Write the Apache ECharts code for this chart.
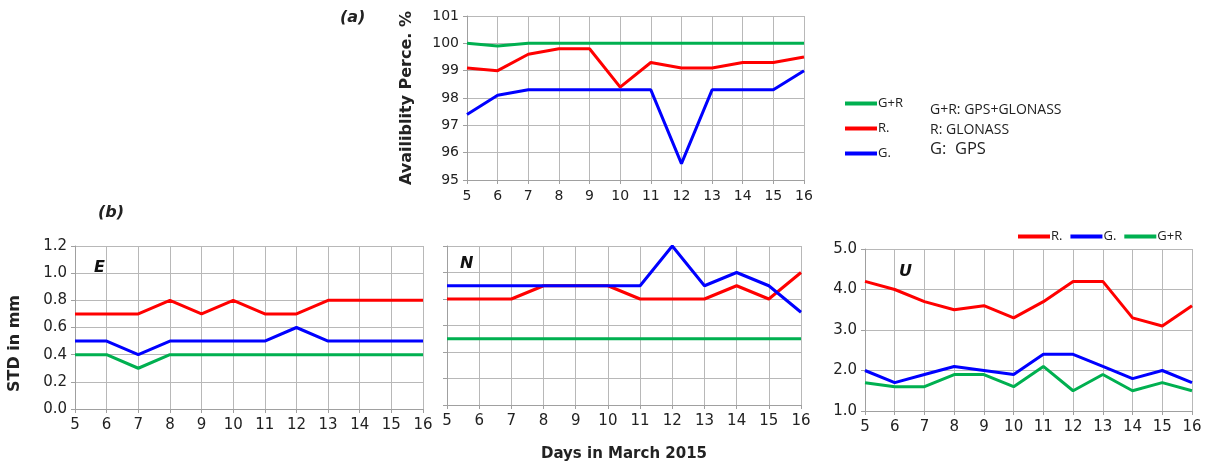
<!DOCTYPE html>
<html>
<head>
<meta charset="utf-8">
<script src="https://cdn.jsdelivr.net/npm/echarts@6/dist/echarts.min.js"></script>
<style>
  html, body { margin: 0; padding: 0; background: #fff; }
  #chart { width: 1206px; height: 463px; }
</style>
</head>
<body>
<div id="chart"></div>
<script>
const days = [5, 6, 7, 8, 9, 10, 11, 12, 13, 14, 15, 16];

// (a) availability %
const availGR = [100, 99.9, 100, 100, 100, 100, 100, 100, 100, 100, 100, 100];
const availR = [99.1, 99.0, 99.6, 99.8, 99.8, 98.4, 99.3, 99.1, 99.1, 99.3, 99.3, 99.5];
const availG = [97.4, 98.1, 98.3, 98.3, 98.3, 98.3, 98.3, 95.6, 98.3, 98.3, 98.3, 99.0];

// (b) STD in mm
const eastR = [0.7, 0.7, 0.7, 0.8, 0.7, 0.8, 0.7, 0.7, 0.8, 0.8, 0.8, 0.8];
const eastG = [0.5, 0.5, 0.4, 0.5, 0.5, 0.5, 0.5, 0.6, 0.5, 0.5, 0.5, 0.5];
const eastGR = [0.4, 0.4, 0.3, 0.4, 0.4, 0.4, 0.4, 0.4, 0.4, 0.4, 0.4, 0.4];

const northR = [0.8, 0.8, 0.8, 0.9, 0.9, 0.9, 0.8, 0.8, 0.8, 0.9, 0.8, 1.0];
const northG = [0.9, 0.9, 0.9, 0.9, 0.9, 0.9, 0.9, 1.2, 0.9, 1.0, 0.9, 0.7];
const northGR = [0.5, 0.5, 0.5, 0.5, 0.5, 0.5, 0.5, 0.5, 0.5, 0.5, 0.5, 0.5];

const upR = [4.2, 4.0, 3.7, 3.5, 3.6, 3.3, 3.7, 4.2, 4.2, 3.3, 3.1, 3.6];
const upG = [2.0, 1.7, 1.9, 2.1, 2.0, 1.9, 2.4, 2.4, 2.1, 1.8, 2.0, 1.7];
const upGR = [1.7, 1.6, 1.6, 1.9, 1.9, 1.6, 2.1, 1.5, 1.9, 1.5, 1.7, 1.5];

const colors = { "G+R": "#00b050", "R.": "#ff0000", "G.": "#0000ff" };
const font = "DejaVu Sans, Verdana, sans-serif";
const gridColor = "#b8b8b8";

function pairs(values) {
  return days.map((d, i) => [d, values[i]]);
}

function line(name, values, idx) {
  return {
    name: name,
    type: "line",
    xAxisIndex: idx,
    yAxisIndex: idx,
    data: pairs(values),
    symbol: "none",
    lineStyle: { width: 3, color: colors[name] },
    itemStyle: { color: colors[name] },
    z: name === "G." ? 3 : 2,
  };
}

function xAxis(idx, size, extra) {
  return Object.assign({
    type: "value",
    gridIndex: idx,
    min: 5,
    max: 16,
    interval: 1,
    axisLine: { show: true, lineStyle: { color: "#a0a0a0" } },
    axisTick: { show: true, length: 4, lineStyle: { color: "#a0a0a0" } },
    axisLabel: { color: "#222", fontSize: size, fontFamily: font, margin: 9 },
    splitLine: { show: true, lineStyle: { color: gridColor } },
  }, extra || {});
}

function yAxis(idx, min, max, interval, digits, size, extra) {
  return Object.assign({
    type: "value",
    gridIndex: idx,
    min: min,
    max: max,
    interval: interval,
    axisLine: { show: true, lineStyle: { color: "#a0a0a0" } },
    axisTick: { show: true, length: 4, lineStyle: { color: "#a0a0a0" } },
    axisLabel: {
      color: "#222",
      fontSize: size,
      fontFamily: font,
      margin: 8,
      formatter: (v) => v.toFixed(digits),
    },
    splitLine: { show: true, lineStyle: { color: gridColor } },
  }, extra || {});
}

const nameStyle = { color: "#222", fontSize: 16, fontWeight: "bold", fontFamily: font };
const legendText = { color: "#222", fontSize: 13, fontFamily: "Open Sans, sans-serif", padding: [0, 0, 0, -4] };

const chart = echarts.init(document.getElementById("chart"));
const option = {
  backgroundColor: "#fff",
  animation: false,
  grid: [
    { left: 467, width: 337, top: 16, height: 164 },
    { left: 75, width: 348, top: 246, height: 163 },
    { left: 447, width: 354, top: 246, height: 163 },
    { left: 865, width: 327, top: 249, height: 162 },
  ],
  xAxis: [
    xAxis(0, 14),
    xAxis(1, 15),
    xAxis(2, 15, {
      name: "Days in March 2015",
      nameLocation: "middle",
      nameGap: 42,
      nameTextStyle: Object.assign({}, nameStyle, { fontSize: 15 }),
    }),
    xAxis(3, 15),
  ],
  yAxis: [
    yAxis(0, 95, 101, 1, 0, 14, {
      name: "Availiblity Perce. %",
      nameLocation: "middle",
      nameGap: 52,
      nameTextStyle: nameStyle,
    }),
    yAxis(1, 0, 1.2, 0.2, 1, 15, {
      name: "STD in mm",
      nameLocation: "middle",
      nameGap: 52,
      nameTextStyle: Object.assign({}, nameStyle, { padding: [0, 32, 0, 0] }),
    }),
    yAxis(2, 0, 1.2, 0.2, 1, 15, { axisLabel: { show: false } }),
    yAxis(3, 1, 5, 1, 1, 15),
  ],
  legend: [
    {
      orient: "vertical",
      left: 840,
      top: 92,
      itemWidth: 32,
      itemHeight: 4,
      itemGap: 12,
      icon: "rect",
      data: ["G+R", "R.", "G."],
      textStyle: legendText,
    },
    {
      orient: "horizontal",
      left: 1013,
      top: 225,
      itemWidth: 32,
      itemHeight: 4,
      itemGap: 8,
      icon: "rect",
      data: ["R.", "G.", "G+R"],
      textStyle: legendText,
    },
  ],
  graphic: [
    { type: "text", left: 340, top: 10, style: { text: "(a)", font: "italic bold 16px " + font, fill: "#222" } },
    { type: "text", left: 98, top: 205, style: { text: "(b)", font: "italic bold 16px " + font, fill: "#222" } },
    { type: "text", left: 90, top: 258, style: { text: "E", font: "italic bold 16px " + font, fill: "#111", backgroundColor: "#fff", padding: [2, 6, 2, 4] } },
    { type: "text", left: 456, top: 254, style: { text: "N", font: "italic bold 16px " + font, fill: "#111", backgroundColor: "#fff", padding: [2, 6, 2, 4] } },
    { type: "text", left: 895, top: 262, style: { text: "U", font: "italic bold 16px " + font, fill: "#111", backgroundColor: "#fff", padding: [2, 6, 2, 4] } },
    { type: "text", left: 930, top: 103, style: { text: "G+R: GPS+GLONASS", font: "14px Open Sans, sans-serif", fill: "#222" } },
    { type: "text", left: 930, top: 123, style: { text: "R: GLONASS", font: "14px Open Sans, sans-serif", fill: "#222" } },
    { type: "text", left: 930, top: 141, style: { text: "G:  GPS", font: "16.5px Open Sans, sans-serif", fill: "#222" } },
  ],
  series: [
    line("G+R", availGR, 0),
    line("R.", availR, 0),
    line("G.", availG, 0),
    line("R.", eastR, 1),
    line("G.", eastG, 1),
    line("G+R", eastGR, 1),
    line("R.", northR, 2),
    line("G.", northG, 2),
    line("G+R", northGR, 2),
    line("R.", upR, 3),
    line("G.", upG, 3),
    line("G+R", upGR, 3),
  ],
};
chart.setOption(option);
</script>
</body>
</html>
